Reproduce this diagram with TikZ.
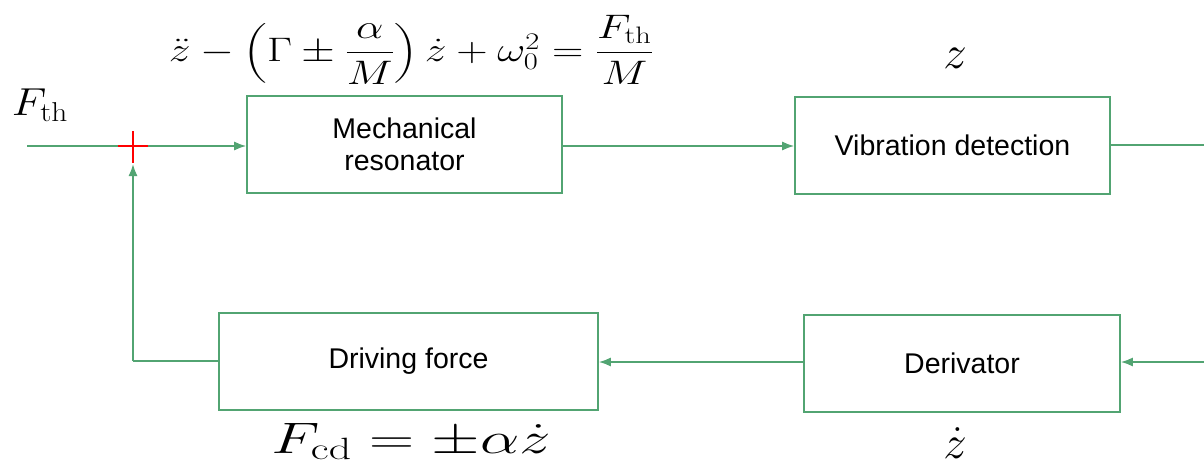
\RequirePackage{fix-cm}
\documentclass[tikz,border=0pt]{standalone}
\usepackage{amsmath}
\usepackage{graphicx}
\usepackage{fontspec}
\setsansfont{Liberation Sans}
\usetikzlibrary{arrows.meta}
\definecolor{gr}{RGB}{82,164,114}
\tikzset{
  blk/.style={draw=gr, line width=1.6pt, minimum height=97pt, inner sep=0pt, font=\sffamily\fontsize{28.5}{32}\selectfont, align=center},
  con/.style={draw=gr, line width=1.6pt},
  arr/.style={con, -{Latex[length=12pt,width=9pt]}},
  eq/.style={inner sep=0pt, font=\fontsize{34}{38}\selectfont}
}
\begin{document}
\begin{tikzpicture}[x=1pt,y=-1pt]
\useasboundingbox (0,0) rectangle (1204,474);
\node[blk, minimum width=315pt] (res) at (404.5,144.5) {Mechanical\\resonator};
\node[blk, minimum width=315pt] (vib) at (952.5,145.5) {Vibration detection};
\node[blk, minimum width=379pt] (drv) at (408.5,361.5) {Driving force};
\node[blk, minimum width=316pt] (der) at (962,363.5) {Derivator};
\coordinate (in) at (27,146);
\coordinate (sum) at (133,146);
\coordinate (vout) at (1204,145);
\coordinate (din) at (1204,362);
\coordinate (corner) at (133,361);
\coordinate (up) at (133,164);
\draw[arr] (in) -- (res.west |- in);
\draw[arr] (res.east |- 0,146) -- (vib.west |- 0,146);
\draw[con] (vib.east |- vout) -- (vout);
\draw[arr] (din) -- (der.east |- din);
\draw[arr] (der.west |- 0,362) -- (drv.east |- 0,362);
\draw[con] (drv.west |- corner) -- (corner);
\draw[arr] (corner) -- (up);
\draw[red, line width=2pt] (118,146) -- (148,146) (133,131) -- (133,163);
\node[eq] (eqn) at (411,50) {\scalebox{1.28}[1]{$\ddot z-\left(\Gamma\pm\dfrac{\alpha}{M}\right)\dot z+\omega_0^2=\dfrac{F_{\mathrm{th}}}{M}$}};
\node[eq, font=\fontsize{47}{50}\selectfont] (zl) at (955,58) {$z$};
\node[eq, font=\fontsize{39}{42}\selectfont] (fth) at (40,105) {\scalebox{1.15}[1]{$F_{\mathrm{th}}$}};
\node[eq, font=\fontsize{44}{48}\selectfont, anchor=base] (fcd) at (411,453) {\scalebox{1.42}[1]{$F_{\mathrm{cd}}=\pm\alpha\dot z$}};
\node[eq, font=\fontsize{47}{50}\selectfont] (zd) at (955,443) {$\dot z$};
\end{tikzpicture}
\end{document}
